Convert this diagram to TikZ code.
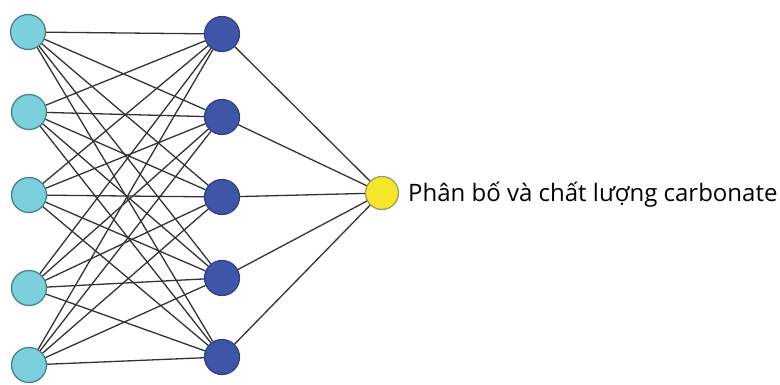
\documentclass[tikz,border=0pt]{standalone}
\usepackage{fontspec}
\setmainfont{Open Sans}
\definecolor{incyan}{HTML}{7CCFDD}
\definecolor{inedge}{HTML}{3E7F8A}
\definecolor{hidblue}{HTML}{3F55A8}
\definecolor{hidedge}{HTML}{2E3F80}
\definecolor{outyellow}{HTML}{F4E62A}
\definecolor{outedge}{HTML}{9C9A5A}
\begin{document}
\begin{tikzpicture}[x=1pt,y=-1pt,
    inputnode/.style ={circle, draw=inedge, fill=incyan, line width=1.2pt, minimum size=35pt, inner sep=0pt},
    hiddennode/.style ={circle, draw=hidedge, fill=hidblue, line width=1.2pt, minimum size=35pt, inner sep=0pt},
    outputnode/.style ={circle, draw=outedge, fill=outyellow, line width=1.2pt, minimum size=33pt, inner sep=0pt},
    link/.style ={draw=black!80, line width=1.3pt}]
   \useasboundingbox (0,0) rectangle (780,385);
   \node[inputnode] (I1) at (28,32)  {};
   \node[inputnode] (I2) at (29,112) {};
   \node[inputnode] (I3) at (29,195) {};
   \node[inputnode] (I4) at (29,288) {};
   \node[inputnode] (I5) at (29,365) {};
   \node[hiddennode] (H1) at (222,34)  {};
   \node[hiddennode] (H2) at (222,117) {};
   \node[hiddennode] (H3) at (222,197) {};
   \node[hiddennode] (H4) at (222,278) {};
   \node[hiddennode] (H5) at (222,357) {};
   \node[outputnode] (O) at (382,193) {};
   \node[anchor=west, font=\fontsize{24}{28}\selectfont, inner sep=0pt] (L) at (408,195) {Phân bố và chất lượng carbonate};
   \foreach \i in {1,...,5} {
     \foreach \j in {1,...,5}
       \draw[link] (I\i) to (H\j);
     \draw[link] (H\i) to (O);
   }
 \end{tikzpicture}
\end{document}
